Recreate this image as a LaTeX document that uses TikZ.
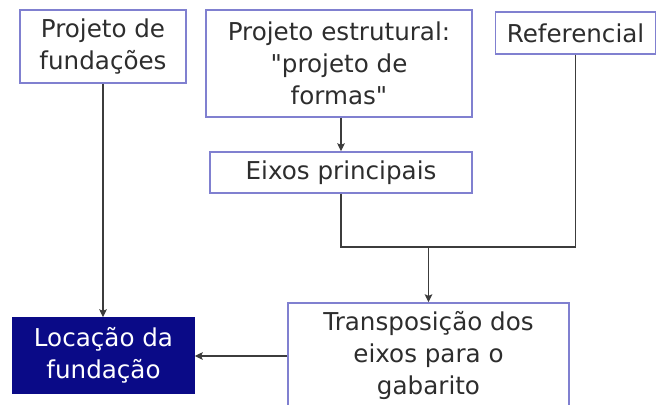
\documentclass[tikz,border=0pt]{standalone}
\usepackage{fontspec}
\setmainfont{DejaVu Sans}
\usepackage{tikz}
\usetikzlibrary{arrows,arrows.meta,positioning}
\definecolor{boxline}{RGB}{128,128,208}
\definecolor{navybox}{RGB}{10,10,135}
\definecolor{boxtext}{RGB}{45,45,45}
\definecolor{wire}{RGB}{60,60,60}
\tikzset{>={Stealth[length=4pt,width=3.8pt,inset=0.8pt]},
         box/.style={draw=boxline, line width=0.75pt, text=boxtext, align=center,
                     inner sep=0pt, font=\fontsize{12.3}{16}\selectfont},
         goal/.style={box, draw=navybox, fill=navybox, text=white},
         wire/.style={draw=wire, line width=0.6pt}}
\begin{document}
\begin{tikzpicture}[x=0.5pt,y=-0.5pt]
\useasboundingbox (0,0) rectangle (657,405);
\node[box, minimum width=83pt, minimum height=36.5pt] (fund) at (103,46.5)
  {Projeto de\\fundações};
\node[box, minimum width=133pt, minimum height=53.5pt] (estr) at (339,63.5)
  {Projeto estrutural:\\\textquotedbl projeto de\\formas\textquotedbl};
\node[box, minimum width=80pt, minimum height=21pt] (ref) at (575.5,33)
  {Referencial};
\node[box, minimum width=131pt, minimum height=20.5pt] (eixos) at (341,172.5)
  {Eixos principais};
\node[goal, minimum width=90.5pt, minimum height=37.5pt] (loc) at (103.5,355.5)
  {Locação da\\fundação};
\node[box, minimum width=140.5pt, minimum height=53pt] (transp) at (428.5,356)
  {Transposição dos\\eixos para o\\gabarito};
\coordinate (join) at (428.5,247);
\path[->]
(fund.south) edge[wire] (fund.south |- loc.north)
(eixos.north |- estr.south) edge[wire] (eixos.north)
(transp.west) edge[wire] (transp.west -| loc.east);
\draw[->,wire] (eixos.south) |- (join) -- (transp.north);
\draw[wire] (ref.south) |- (join);
\end{tikzpicture}
\end{document}
